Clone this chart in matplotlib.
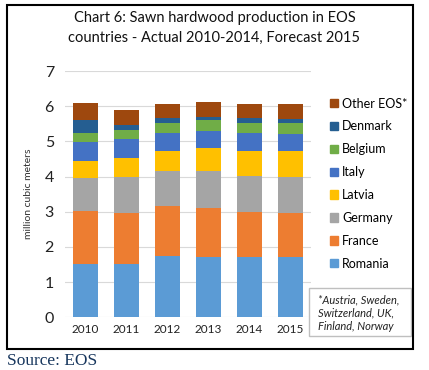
import numpy as np
import matplotlib.pyplot as plt
from matplotlib.patches import Rectangle, Patch

plt.rcParams['font.family'] = ['Lato', 'DejaVu Sans']

years = ['2010', '2011', '2012', '2013', '2014', '2015']
countries = ['Romania', 'France', 'Germany', 'Latvia', 'Italy', 'Belgium', 'Denmark', 'Other EOS*']
colors = ['#5B9BD5', '#ED7D31', '#A5A5A5', '#FFC000', '#4472C4', '#70AD47', '#255E91', '#9E480E']

# million cubic meters
romania = [1.52, 1.52, 1.74, 1.72, 1.70, 1.70]
france = [1.50, 1.45, 1.43, 1.40, 1.30, 1.26]
germany = [0.94, 1.01, 0.99, 1.04, 1.02, 1.02]
latvia = [0.48, 0.55, 0.57, 0.64, 0.71, 0.75]
italy = [0.55, 0.55, 0.52, 0.50, 0.52, 0.49]
belgium = [0.25, 0.25, 0.28, 0.30, 0.28, 0.31]
denmark = [0.38, 0.14, 0.13, 0.10, 0.13, 0.10]
other = [0.47, 0.42, 0.40, 0.41, 0.39, 0.42]
series = [romania, france, germany, latvia, italy, belgium, denmark, other]

fig = plt.figure(figsize=(4.29, 3.70), dpi=100)
ax = fig.add_axes([0.1515, 0.1424, 0.5735, 0.6657])

x = np.arange(len(years))
bottom = np.zeros(len(years))
for vals, c, name in zip(series, colors, countries):
    ax.bar(x, vals, 0.61, bottom=bottom, color=c, label=name, zorder=3)
    bottom += np.array(vals)

ax.set_ylim(0, 7)
ax.set_xlim(-0.5, len(years) - 0.5)
ax.set_yticks(range(8))
ax.set_xticks(x)
ax.set_xticklabels(years, fontsize=8.5, color='#222222')
ax.tick_params(axis='y', labelsize=11.5, colors='#222222', length=0, pad=8)
ax.tick_params(axis='x', length=0, pad=5)
ax.grid(axis='y', color='#D9D9D9', linewidth=0.8, zorder=0)
for s in ax.spines.values():
    s.set_visible(False)
ax.set_ylabel('million cubic meters', fontsize=7.5, color='#333333', labelpad=8)

handles = [Patch(color=c) for c in colors][::-1]
fig.legend(handles, countries[::-1], loc='upper left', bbox_to_anchor=(0.757, 0.75),
           frameon=False, fontsize=9, handlelength=0.65, handleheight=0.65,
           handletextpad=0.35, labelspacing=0.87, borderaxespad=0)

fig.text(0.5, 0.925, 'Chart 6: Sawn hardwood production in EOS\ncountries - Actual 2010-2014, Forecast 2015',
         ha='center', va='center', fontsize=10.5, color='#111111', linespacing=1.5)

# note box
fig.patches.append(Rectangle((0.72, 0.092), 0.238, 0.13, transform=fig.transFigure,
                             fill=False, edgecolor='#BFBFBF', linewidth=1))
fig.text(0.741, 0.154, '*Austria, Sweden,\nSwitzerland, UK,\nFinland, Norway',
         ha='left', va='center', fontsize=8, style='italic', color='#222222', linespacing=1.25)

# outer frame
fig.patches.append(Rectangle((0.016, 0.057), 0.947, 0.929, transform=fig.transFigure,
                             fill=False, edgecolor='black', linewidth=1.5))

fig.text(0.016, 0.024, 'Source: EOS', family='Liberation Serif', fontsize=12.5,
         color='#17365D', ha='left', va='center')

fig.savefig('out.png', dpi=100)
